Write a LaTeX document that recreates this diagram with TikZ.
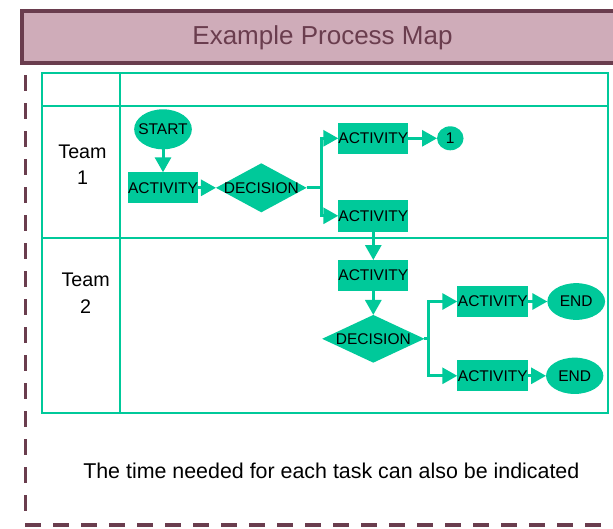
\documentclass[tikz,border=0pt]{standalone}
\usepackage{fontspec}
\setmainfont{Liberation Sans}
\usetikzlibrary{shapes.geometric,arrows.meta}
\definecolor{flowgreen}{HTML}{00C99A}
\definecolor{plum}{HTML}{6A3D4E}
\definecolor{plumlight}{HTML}{CFACB9}
\tikzset{
  lbl/.style={font=\fontsize{15.5}{18}\selectfont, inner sep=0pt, text=black},
  actbox/.style={rectangle, fill=flowgreen, minimum width=70pt, minimum height=31pt,
                 inner sep=0pt, outer sep=0pt, lbl},
  decbox/.style={diamond, fill=flowgreen, inner sep=0pt, outer sep=0pt},
  termbox/.style={ellipse, fill=flowgreen, inner sep=0pt, outer sep=0pt},
  flowarrow/.style={draw=flowgreen, line width=3pt, -{Triangle[length=15pt,width=16pt]}},
  lane/.style={draw=flowgreen, line width=2pt},
  teamlabel/.style={align=center, font=\fontsize{19.7}{26.5}\selectfont, inner sep=0pt},
  every label/.style={lbl},
}
\begin{document}
\begin{tikzpicture}[x=1pt,y=-1pt]
\useasboundingbox (0,0) rectangle (613,528);

% title bar
\draw[plum, fill=plumlight, line width=4pt] (22,11.3) rectangle (640,62.7);
\node[anchor=base, text=plum, font=\fontsize{26}{30}\selectfont, inner sep=0pt]
  (title) at (322.5,44.3) {Example Process Map};

% dashed outline
\draw[plum, line width=3.2pt, dash pattern=on 15.5pt off 12.5pt] (25.4,75) -- (25.4,511);
\draw[plum, line width=3.6pt, dash pattern=on 16pt off 12pt] (25,524.7) -- (613,524.7);

% swimlane grid
\draw[lane] (42.2,73.2) rectangle (608,412.5);
\draw[lane] (120.3,73.2) -- (120.3,412.5);
\draw[lane] (42.2,106.2) -- (608,106.2);
\draw[lane] (42.2,238.3) -- (608,238.3);

\node[teamlabel] (team1) at (82.5,164.6) {Team\\1};
\node[teamlabel] (team2) at (85.6,293.3) {Team\\2};

% team 1 flow
\node[termbox, minimum width=57.7pt, minimum height=40pt, label=center:START] (start) at (163,129.3) {};
\node[actbox] (act1) at (163,187.8) {ACTIVITY};
\node[decbox, minimum width=90.7pt, minimum height=49pt, label=center:DECISION] (dec1) at (261.3,187.8) {};
\node[actbox, minimum height=30.7pt] (act2) at (373.3,138.3) {ACTIVITY};
\node[actbox, minimum height=31.7pt] (act3) at (373.3,215.8) {ACTIVITY};
\node[termbox, minimum width=26.5pt, minimum height=24pt, label=center:1] (one) at (450.3,138.3) {};

% team 2 flow
\node[actbox] (act4) at (373.3,275.5) {ACTIVITY};
\node[decbox, minimum width=102.3pt, minimum height=47.7pt, label=center:DECISION] (dec2) at (373.3,338.8) {};
\node[actbox, minimum width=71pt] (act5) at (492.8,301.5) {ACTIVITY};
\node[actbox, minimum width=71pt] (act6) at (492.8,375.8) {ACTIVITY};
\node[termbox, minimum width=57.7pt, minimum height=36.7pt, label=center:END] (end1) at (576.2,301.5) {};
\node[termbox, minimum width=57.3pt, minimum height=36.3pt, label=center:END] (end2) at (574.7,375.8) {};

% connectors
\draw[flowarrow] (start) -- (act1);
\draw[flowarrow] (act1) -- (dec1);
\draw[flowarrow] (dec1.east) -- ++(15.3,0) |- (act2.west);
\draw[flowarrow] (dec1.east) -- ++(15.3,0) |- (act3.west);
\draw[flowarrow] (act2) -- (one);
\draw[flowarrow] (act3) -- (act4);
\draw[flowarrow] (act4) -- (dec2);
\draw[flowarrow] (dec2.east) -- ++(4.5,0) |- (act5.west);
\draw[flowarrow] (dec2.east) -- ++(4.5,0) |- (act6.west);
\draw[flowarrow] (act5) -- (end1);
\draw[flowarrow] (act6) -- (end2);

% footnote
\node[anchor=base, font=\fontsize{21.4}{25}\selectfont, inner sep=0pt]
  (note) at (331.3,478.3) {The time needed for each task can also be indicated};
\end{tikzpicture}
\end{document}
